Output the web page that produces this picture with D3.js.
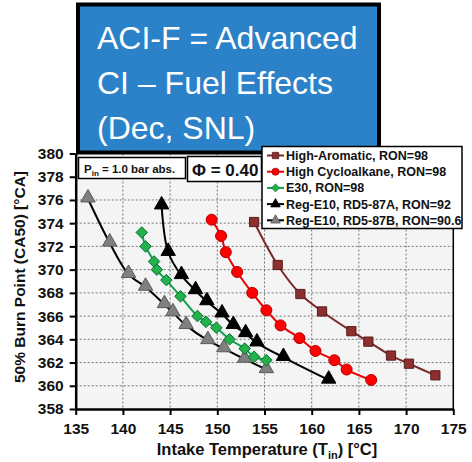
<!DOCTYPE html>
<html><head><meta charset="utf-8">
<script src="https://cdn.jsdelivr.net/npm/d3@7"></script>
<style>
html,body{margin:0;padding:0;background:#fff;}
svg{display:block;}
text{font-family:"Liberation Sans",Arial,sans-serif;}
</style></head>
<body>
<svg id="c" width="472" height="462"></svg>
<script>
// ---- data ----
const seriesNames = ["High-Aromatic, RON=98","High Cycloalkane, RON=98","E30, RON=98","Reg-E10, RD5-87A, RON=92","Reg-E10, RD5-87B, RON=90.6"];
const aromaticT = [153.9,156.4,158.8,161.1,164.2,166.0,168.4,170.3,173.1];
const aromaticCA = [374.1,370.4,367.9,366.4,364.7,363.8,362.6,361.9,360.9];
const cycloT = [149.4,150.4,150.9,152.1,153.7,155.2,156.7,158.7,160.4,162.4,163.7,166.3];
const cycloCA = [374.3,372.9,371.5,369.8,368.0,366.5,365.2,364.1,363.0,362.2,361.4,360.5];
const e30T = [142.0,142.4,143.3,143.6,144.6,146.1,147.9,148.8,149.9,151.3,152.9,153.9,155.2];
const e30CA = [373.2,372.0,370.7,370.0,369.1,367.7,366.0,365.5,365.0,364.0,363.2,362.5,362.2];
const rd87aT = [144.1,144.8,146.2,147.7,148.9,150.5,151.7,153.0,154.2,157.0,161.8];
const rd87aCA = [375.5,371.5,369.5,368.2,367.25,366.2,365.2,364.5,363.7,362.45,360.5];
const rd87bT = [136.3,138.6,140.6,142.4,144.4,145.3,146.7,149.0,150.7,152.9,155.2];
const rd87bCA = [376.1,372.3,369.6,368.5,367.0,366.3,365.2,363.9,363.2,362.3,361.4];
const xTicks = [135,140,145,150,155,160,165,170,175];
const yTicks = [358,360,362,364,366,368,370,372,374,376,378,380];
const titleLines = ["ACI-F = Advanced","CI \u2013 Fuel Effects","(Dec, SNL)"];

const svg = d3.select("#c");
const L=75.7, R=453.3, T=153.5, B=409;
const x = d3.scaleLinear().domain([135,175]).range([L,R]);
const y = d3.scaleLinear().domain([358,380]).range([B,T]);

// plot background
svg.append("rect").attr("x",L).attr("y",T).attr("width",R-L).attr("height",B-T).attr("fill","#f4f4f4");

// grid
const g = svg.append("g");
g.selectAll(".vg").data(xTicks.slice(1,-1)).enter().append("line")
 .attr("x1",d=>x(d)).attr("x2",d=>x(d)).attr("y1",T).attr("y2",B)
 .attr("stroke","#555").attr("stroke-width",0.8).attr("stroke-dasharray","2,2");
g.selectAll(".hg").data(yTicks.slice(1)).enter().append("line")
 .attr("x1",L).attr("x2",R).attr("y1",d=>y(d)).attr("y2",d=>y(d))
 .attr("stroke","#555").attr("stroke-width",0.8).attr("stroke-dasharray","2,2");

// right border
svg.append("line").attr("x1",R).attr("x2",R).attr("y1",T).attr("y2",B).attr("stroke","#000").attr("stroke-width",1.5);

// axes
const xAxis = svg.append("g").attr("transform",`translate(0,${B})`)
 .call(d3.axisBottom(x).tickValues(xTicks).tickSize(6).tickSizeOuter(0).tickPadding(8));
const yAxis = svg.append("g").attr("transform",`translate(${L},0)`)
 .call(d3.axisLeft(y).tickValues(yTicks).tickSize(6).tickSizeOuter(0).tickPadding(6));
[xAxis,yAxis].forEach(a=>{
  a.select(".domain").attr("stroke","#000").attr("stroke-width",2.5);
  a.selectAll(".tick line").attr("stroke","#000").attr("stroke-width",2);
  a.selectAll(".tick text").attr("font-size",15.5).attr("font-weight","bold").attr("fill","#111")
   .attr("font-family","'Liberation Sans',Arial,sans-serif");
});
xAxis.selectAll(".tick text").attr("dy","0.71em");

// axis titles
const xt = svg.append("text").attr("x",267).attr("y",455).attr("text-anchor","middle")
 .attr("font-size",16.5).attr("font-weight","bold").attr("fill","#111");
xt.append("tspan").text("Intake Temperature (T");
xt.append("tspan").text("in").attr("font-size",11).attr("dy",4);
xt.append("tspan").text(") [\u00B0C]").attr("dy",-4);
svg.append("text").attr("transform","translate(25,277) rotate(-90)").attr("text-anchor","middle")
 .attr("font-size",15.5).attr("font-weight","bold").attr("fill","#111").text("50% Burn Point (CA50) [\u00B0CA]");

// series
const styles = [
 {line:"#7a2a2a", fill:"#8e2f2f", stroke:"#5a1c1c", shape:"square", T:aromaticT, V:aromaticCA},
 {line:"#ee0000", fill:"#ff0000", stroke:"#b00000", shape:"circle", T:cycloT, V:cycloCA},
 {line:"#10a050", fill:"#22b14c", stroke:"#0a6e2e", shape:"diamond", T:e30T, V:e30CA},
 {line:"#000000", fill:"#000000", stroke:"#000000", shape:"triangle", T:rd87aT, V:rd87aCA},
 {line:"#000000", fill:"#808080", stroke:"#5a5a5a", shape:"triangle", T:rd87bT, V:rd87bCA}
];
function sym(shape, size){
  const m = {square:d3.symbolSquare, circle:d3.symbolCircle, diamond:d3.symbolDiamond2, triangle:d3.symbolTriangle};
  return d3.symbol().type(m[shape]).size(size)();
}
const sizes = {square:85, circle:95, diamond:85, triangle:90};
const line = d3.line().curve(d3.curveCatmullRom.alpha(0.5));
const order = [4,3,2,1,0];
order.forEach(i=>{
  const s = styles[i];
  const pts = s.T.map((t,j)=>[x(t), y(s.V[j])]);
  svg.append("path").attr("d",line(pts)).attr("fill","none").attr("stroke",s.line).attr("stroke-width",2);
});
order.forEach(i=>{
  const s = styles[i];
  const pts = s.T.map((t,j)=>[x(t), y(s.V[j])]);
  svg.append("g").selectAll("path").data(pts).enter().append("path")
   .attr("transform",d=>`translate(${d[0]},${d[1] + (s.shape==="triangle"? -1:0)})`)
   .attr("d",sym(s.shape,sizes[s.shape])).attr("fill",s.fill).attr("stroke",s.stroke).attr("stroke-width",1);
});

// title box
svg.append("rect").attr("x",78).attr("y",4.5).attr("width",301).attr("height",148)
 .attr("fill","#2b82c9").attr("stroke","#000").attr("stroke-width",4);
titleLines.forEach((t,i)=>{
  svg.append("text").attr("x",97).attr("y",49+i*45).attr("fill","#fff")
   .attr("font-family","Lato,'Open Sans',sans-serif").attr("font-size",32).text(t);
});

// Pin box
svg.append("rect").attr("x",78.5).attr("y",157.5).attr("width",107).attr("height",21)
 .attr("fill","#fff").attr("stroke","#000").attr("stroke-width",1.5);
const pt = svg.append("text").attr("x",84).attr("y",173).attr("font-size",11.5).attr("font-weight","bold").attr("fill","#111");
pt.append("tspan").text("P");
pt.append("tspan").text("in").attr("font-size",8).attr("dy",3);
pt.append("tspan").text(" = 1.0 bar abs.").attr("dy",-3);

// Phi box
svg.append("rect").attr("x",187.5).attr("y",156.5).attr("width",74).attr("height",25)
 .attr("fill","#fff").attr("stroke","#000").attr("stroke-width",1.5);
svg.append("text").attr("x",192).attr("y",175.5).attr("font-size",17).attr("font-weight","bold").attr("fill","#111")
 .text("\u03A6 = 0.40");

// legend
svg.append("rect").attr("x",262).attr("y",146.5).attr("width",200).attr("height",82)
 .attr("fill","#fff").attr("stroke","#000").attr("stroke-width",1.5);
seriesNames.forEach((n,i)=>{
  const s = styles[i];
  const yy = 155.5 + i*16.2;
  svg.append("line").attr("x1",267).attr("x2",284).attr("y1",yy).attr("y2",yy).attr("stroke",s.line).attr("stroke-width",2);
  svg.append("path").attr("transform",`translate(275.5,${yy})`).attr("d",sym(s.shape,40))
   .attr("fill",s.fill).attr("stroke",s.stroke).attr("stroke-width",0.8);
  svg.append("text").attr("x",286).attr("y",yy+4.5).attr("font-size",12.5).attr("font-weight","bold").attr("fill","#111").text(n);
});
</script>
</body></html>
